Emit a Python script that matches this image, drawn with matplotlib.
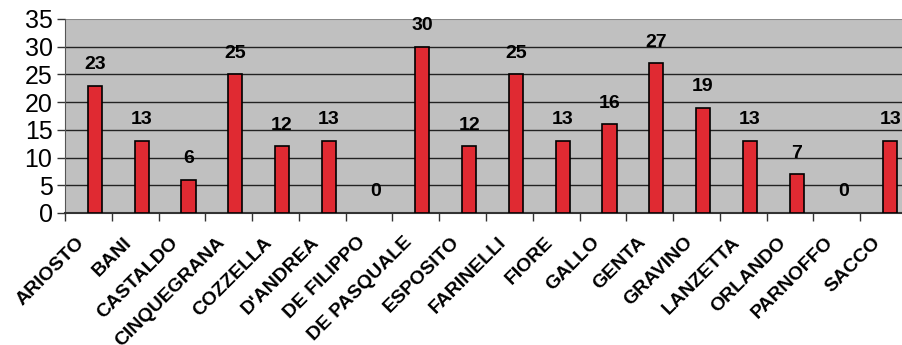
import numpy as np
import matplotlib
matplotlib.use('Agg')
import matplotlib.pyplot as plt
import matplotlib.transforms as mtransforms

plt.rcParams['font.family'] = ['Liberation Sans', 'DejaVu Sans']

# ==== data ====
names = ['ARIOSTO', 'BANI', 'CASTALDO', 'CINQUEGRANA', 'COZZELLA', "D'ANDREA",
         'DE FILIPPO', 'DE PASQUALE', 'ESPOSITO', 'FARINELLI', 'FIORE', 'GALLO',
         'GENTA', 'GRAVINO', 'LANZETTA', 'ORLANDO', 'PARNOFFO', 'SACCO']
values = [23, 13, 6, 25, 12, 13, 0, 30, 12, 25, 13, 16, 27, 19, 13, 7, 0, 13]
yticks = [0, 5, 10, 15, 20, 25, 30, 35]

# ==== figure ====
fig = plt.figure(figsize=(9.02, 3.45), dpi=100)
ax = fig.add_axes([65/902, 132/345, 842/902, 194/345])
ax.set_facecolor('#c0c0c0')

x = np.arange(len(names))
bx = x + 0.14
bars = ax.bar(bx, values, width=0.3, color='#e02a32', edgecolor='black',
              linewidth=1.2, zorder=3)
for b, v in zip(bars, values):
    if v == 0:
        b.set_linewidth(0)

for xi, v in zip(bx, values):
    ax.annotate(str(v), (xi, v), xytext=(0, 9), textcoords='offset points',
                ha='center', va='bottom', fontsize=14, fontweight='bold')

ax.set_xlim(-0.5, len(names) - 0.5)
ax.set_ylim(0, 35)
ax.set_yticks(yticks)
ax.tick_params(axis='y', labelsize=18, length=6, width=1, color='#333333', pad=3)
for y in yticks[1:-1]:
    ax.axhline(y, color='#222222', linewidth=1, zorder=1)
ax.axhline(35, color='#888888', linewidth=1.5, zorder=1)

# x ticks at category boundaries, labels at centres
ax.set_xticks(np.arange(len(names) + 1) - 0.5)
ax.set_xticklabels([])
ax.tick_params(axis='x', length=6, width=1, color='#333333')
ax.set_xticks(x, minor=True)
ax.set_xticklabels(names, minor=True, rotation=45, ha='right',
                   rotation_mode='anchor', fontsize=14, fontweight='bold')
ax.tick_params(axis='x', which='minor', length=0, pad=15)
off = mtransforms.ScaledTranslation(-12/100, 0, fig.dpi_scale_trans)
for lab in ax.get_xticklabels(minor=True):
    lab.set_transform(lab.get_transform() + off)

for s in ['top', 'right']:
    ax.spines[s].set_visible(False)
ax.spines['left'].set_color('#555555')
ax.spines['bottom'].set_color('#333333')
ax.spines['bottom'].set_linewidth(1.5)

fig.savefig('out.png', dpi=100)
